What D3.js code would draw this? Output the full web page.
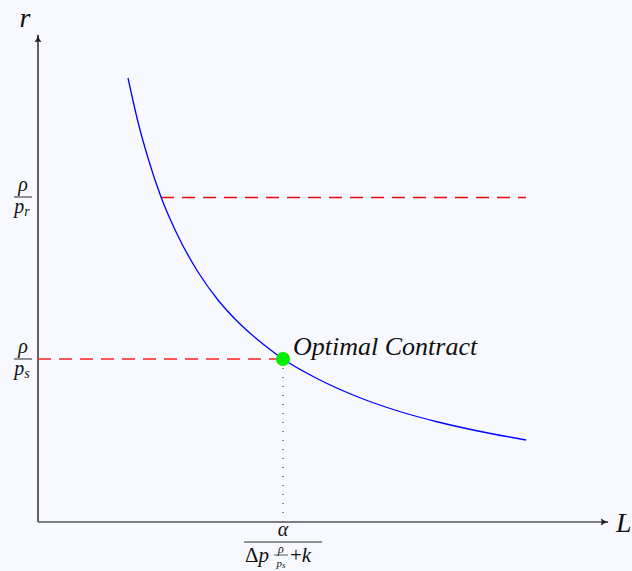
<!DOCTYPE html>
<html lang="en">
<head>
<meta charset="utf-8" />
<title>Optimal Contract</title>
<script src="https://d3js.org/d3.v7.min.js"></script>
<style>
  html, body { margin: 0; padding: 0; background: #f8f9fe; }
  svg { display: block; }
  text { font-family: "Liberation Serif", "Times New Roman", "DejaVu Serif", serif; fill: #111; }
</style>
</head>
<body>
<svg></svg>
<script>
    let width = 632,
        height = 571;

    // values (data units)
    const curveL = [0.90, 1.00, 1.10, 1.23, 1.40, 1.60, 1.80, 2.00, 2.25, 2.45, 2.80, 3.20, 3.60, 4.00, 4.40, 4.88];
    const curveR = [4.44, 4.00, 3.64, 3.25, 2.86, 2.50, 2.22, 2.00, 1.78, 1.63, 1.43, 1.25, 1.11, 1.00, 0.91, 0.82];
    const rhoPr = 3.25;          // level of rho/p_r
    const rhoPs = 1.63;          // level of rho/p_s
    const optL = 2.45;           // optimal L
    const upperLine = [1.23, 4.88];

    let svg = d3.select("svg").attr("width", width).attr("height", height);

    let x = d3.scaleLinear().domain([0, 5.7]).range([38, 608]);
    let y = d3.scaleLinear().domain([0, 4.87]).range([522, 35]);

    // arrow head
    let defs = svg.append("defs");
    defs.append("marker")
        .attr("id", "arrow")
        .attr("viewBox", "0 -5 10 10")
        .attr("refX", 9)
        .attr("refY", 0)
        .attr("markerWidth", 8)
        .attr("markerHeight", 8)
        .attr("markerUnits", "userSpaceOnUse")
        .attr("orient", "auto")
        .append("path")
        .attr("d", "M0,-4.5 Q4,-1 10,0 Q4,1 0,4.5 Q2,0 0,-4.5Z")
        .attr("fill", "#222");

    // axes
    svg.append("line")
        .attr("x1", x(0)).attr("y1", y(0))
        .attr("x2", x(0)).attr("y2", y(4.87))
        .attr("stroke", "#111").attr("stroke-width", 1.3)
        .attr("marker-end", "url(#arrow)");
    svg.append("line")
        .attr("x1", x(0)).attr("y1", y(0))
        .attr("x2", x(5.7)).attr("y2", y(0))
        .attr("stroke", "#555").attr("stroke-width", 1.6)
        .attr("marker-end", "url(#arrow)");

    // dashed levels
    svg.append("line")
        .attr("x1", x(upperLine[0])).attr("x2", x(upperLine[1]))
        .attr("y1", y(rhoPr) + 0.5).attr("y2", y(rhoPr) + 0.5)
        .attr("stroke", "#e80a0a").attr("stroke-width", 1.3)
        .attr("stroke-dasharray", "13,8");
    svg.append("line")
        .attr("x1", x(0)).attr("x2", x(optL))
        .attr("y1", y(rhoPs)).attr("y2", y(rhoPs))
        .attr("stroke", "#ff2020").attr("stroke-width", 1.3)
        .attr("stroke-dasharray", "13,8");

    // dotted drop to L axis
    svg.append("line")
        .attr("x1", x(optL)).attr("x2", x(optL))
        .attr("y1", y(rhoPs)).attr("y2", y(0))
        .attr("stroke", "#222").attr("stroke-width", 1)
        .attr("stroke-dasharray", "1,8");

    // curve
    let pts = curveL.map((d, i) => [d, curveR[i]]);
    svg.append("path")
        .datum(pts)
        .attr("fill", "none")
        .attr("stroke", "#0000ff")
        .attr("stroke-width", 1.3)
        .attr("d", d3.line().x(d => x(d[0])).y(d => y(d[1])).curve(d3.curveMonotoneX));

    // optimal point
    svg.append("circle")
        .attr("cx", x(optL)).attr("cy", y(rhoPs))
        .attr("r", 7)
        .attr("fill", "#00ee00");

    svg.append("text")
        .attr("x", x(optL) + 10).attr("y", y(rhoPs) - 4)
        .attr("font-style", "italic")
        .attr("font-size", 26)
        .text("Optimal Contract");

    // axis names
    svg.append("text")
        .attr("x", 25).attr("y", 27)
        .attr("font-style", "italic").attr("font-size", 28)
        .attr("text-anchor", "middle")
        .text("r");
    svg.append("text")
        .attr("x", 616).attr("y", 532)
        .attr("font-style", "italic").attr("font-size", 28)
        .text("L");

    // fraction label helper
    function fraction(g, cx, cy, num, sub, w) {
        g.append("line")
            .attr("x1", cx - w / 2).attr("x2", cx + w / 2)
            .attr("y1", cy).attr("y2", cy)
            .attr("stroke", "#111").attr("stroke-width", 0.9);
        g.append("text")
            .attr("x", cx).attr("y", cy - 6)
            .attr("text-anchor", "middle")
            .attr("font-style", "italic").attr("font-size", 20)
            .text(num);
        let t = g.append("text")
            .attr("x", cx - 1).attr("y", cy + 16)
            .attr("text-anchor", "middle")
            .attr("font-style", "italic").attr("font-size", 20);
        t.append("tspan").text("p");
        t.append("tspan").attr("font-size", 14).attr("dy", 3).text(sub);
    }

    fraction(svg.append("g"), 23, y(rhoPr), "ρ", "r", 18);
    fraction(svg.append("g"), 23, y(rhoPs), "ρ", "s", 18);

    // L tick label: alpha / (Δp rho/p_s + k)
    let cxL = x(optL);
    let gl = svg.append("g");
    gl.append("line")
        .attr("x1", cxL - 39).attr("x2", cxL + 39)
        .attr("y1", 542).attr("y2", 542)
        .attr("stroke", "#111").attr("stroke-width", 0.9);
    gl.append("text")
        .attr("x", cxL).attr("y", 536)
        .attr("text-anchor", "middle")
        .attr("font-style", "italic").attr("font-size", 20)
        .text("α");
    gl.append("text")
        .attr("x", cxL - 38).attr("y", 562)
        .attr("font-size", 21)
        .html('Δ<tspan font-style="italic">p</tspan>');
    gl.append("line")
        .attr("x1", cxL - 9).attr("x2", cxL + 5)
        .attr("y1", 555).attr("y2", 555)
        .attr("stroke", "#111").attr("stroke-width", 0.7);
    gl.append("text")
        .attr("x", cxL - 2).attr("y", 553)
        .attr("text-anchor", "middle")
        .attr("font-style", "italic").attr("font-size", 12)
        .text("ρ");
    gl.append("text")
        .attr("x", cxL - 2).attr("y", 567)
        .attr("text-anchor", "middle")
        .attr("font-style", "italic").attr("font-size", 11)
        .html('p<tspan font-size="9" dy="1">s</tspan>');
    gl.append("text")
        .attr("x", cxL + 7).attr("y", 562)
        .attr("font-size", 21)
        .html('+<tspan font-style="italic">k</tspan>');
</script>
</body>
</html>
